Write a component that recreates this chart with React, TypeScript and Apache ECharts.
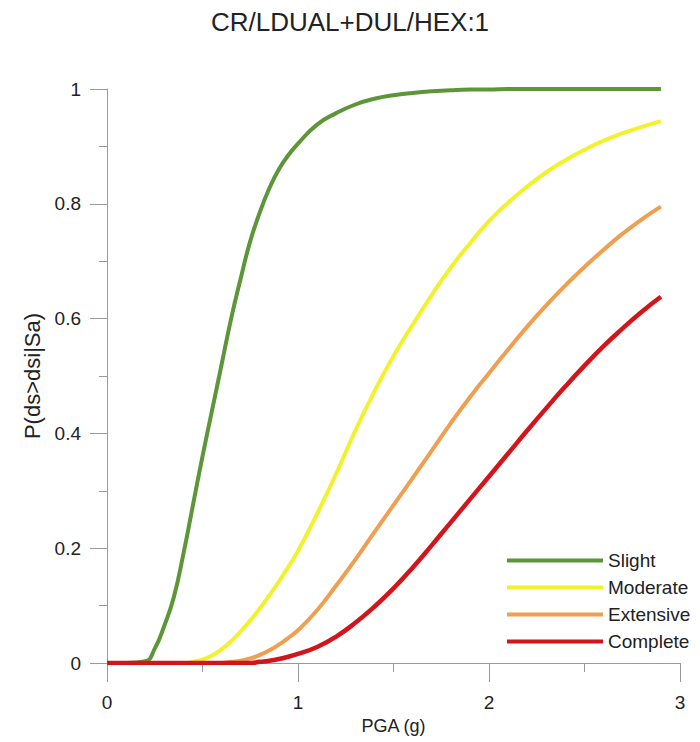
import React, { useEffect, useRef } from "react";
import * as echarts from "echarts";

const pga = [
  0, 0.1, 0.2, 0.25, 0.3, 0.35, 0.4, 0.45, 0.5, 0.55, 0.6, 0.65, 0.7, 0.75, 0.8, 0.85, 0.9, 0.95, 1.0,
  1.1, 1.2, 1.3, 1.4, 1.5, 1.6, 1.7, 1.8, 1.9, 2.0, 2.1, 2.2, 2.3, 2.4, 2.5, 2.6, 2.7, 2.8, 2.9,
];
const slight = [
  0, 0, 0.003, 0.025, 0.065, 0.115, 0.19, 0.275, 0.36, 0.44, 0.52, 0.6, 0.67, 0.735, 0.785, 0.827, 0.86, 0.885, 0.905,
  0.938, 0.958, 0.973, 0.983, 0.989, 0.993, 0.996, 0.998, 0.999, 0.999, 1, 1, 1, 1, 1, 1, 1, 1, 1,
];
const moderate = [
  0, 0, 0, 0, 0, 0, 0, 0.002, 0.006, 0.013, 0.024, 0.038, 0.055, 0.074, 0.095, 0.118, 0.142, 0.168, 0.195,
  0.26, 0.33, 0.405, 0.473, 0.535, 0.589, 0.641, 0.689, 0.731, 0.77, 0.802, 0.83, 0.855, 0.876, 0.894, 0.91, 0.923, 0.934, 0.944,
];
const extensive = [
  0, 0, 0, 0, 0, 0, 0, 0, 0, 0, 0, 0.002, 0.004, 0.008, 0.014, 0.022, 0.032, 0.044, 0.057,
  0.092, 0.135, 0.18, 0.228, 0.275, 0.322, 0.37, 0.418, 0.463, 0.505, 0.546, 0.586, 0.623, 0.658, 0.69, 0.72, 0.748, 0.773, 0.795,
];
const complete = [
  0, 0, 0, 0, 0, 0, 0, 0, 0, 0, 0, 0, 0, 0, 0.002, 0.004, 0.007, 0.011, 0.016,
  0.028, 0.046, 0.07, 0.098, 0.13, 0.166, 0.205, 0.245, 0.285, 0.325, 0.365, 0.405, 0.444, 0.482, 0.518, 0.552, 0.583, 0.612, 0.638,
];

const seriesNames = ["Slight", "Moderate", "Extensive", "Complete"];
const seriesValues = [slight, moderate, extensive, complete];
const seriesColors = ["#5d9638", "#f2f22c", "#ef9f4f", "#d3141b"];

const FONT = "'Liberation Sans', Arial, sans-serif";
const AXIS_GRAY = "#9a9a9a";

export default function App() {
  const ref = useRef<HTMLDivElement>(null);
  useEffect(() => {
    if (!ref.current) return;
    const chart = echarts.init(ref.current, undefined, { renderer: "svg" });
    chart.setOption({
      animation: false,
      backgroundColor: "#ffffff",
      title: {
        text: "CR/LDUAL+DUL/HEX:1",
        left: "center",
        top: 4,
        textStyle: { fontFamily: FONT, fontSize: 26, fontWeight: "normal", color: "#222" },
      },
      grid: { left: 107, right: 20, top: 89, bottom: 79, containLabel: false },
      legend: {
        orient: "vertical",
        left: 502,
        top: 546,
        itemWidth: 96,
        itemHeight: 14,
        itemGap: 8,
        data: seriesNames.map((n, i) => ({
          name: n,
          icon: "path://M0,0 L100,0 L100,4 L0,4 Z",
          itemStyle: { color: seriesColors[i] },
        })),
        textStyle: { fontFamily: FONT, fontSize: 19, color: "#222" },
      },
      xAxis: {
        type: "value",
        min: 0,
        max: 3,
        interval: 1,
        name: "PGA (g)",
        nameLocation: "middle",
        nameGap: 51,
        nameTextStyle: { fontFamily: FONT, fontSize: 18, color: "#222" },
        axisLine: { show: true, lineStyle: { color: AXIS_GRAY, width: 1 } },
        axisTick: { show: true, length: 19, lineStyle: { color: AXIS_GRAY } },
        minorTick: { show: true, splitNumber: 2, length: 9, lineStyle: { color: AXIS_GRAY } },
        axisLabel: { margin: 30, fontFamily: FONT, fontSize: 19, color: "#222" },
        splitLine: { show: false },
      },
      yAxis: {
        type: "value",
        min: 0,
        max: 1,
        interval: 0.2,
        name: "P(ds>dsi|Sa)",
        nameLocation: "middle",
        nameGap: 55,
        nameTextStyle: { fontFamily: FONT, fontSize: 22, color: "#222" },
        axisLine: { show: true, lineStyle: { color: AXIS_GRAY, width: 1 } },
        axisTick: { show: true, length: 17, lineStyle: { color: AXIS_GRAY } },
        minorTick: { show: true, splitNumber: 2, length: 8, lineStyle: { color: AXIS_GRAY } },
        axisLabel: { margin: 26, fontFamily: FONT, fontSize: 19, color: "#222" },
        splitLine: { show: false },
      },
      series: seriesNames.map((name, i) => ({
        name,
        type: "line",
        data: pga.map((x, k) => [x, seriesValues[i][k]]),
        showSymbol: false,
        symbol: "none",
        smooth: 0.5,
        lineStyle: { color: seriesColors[i], width: i === 3 ? 4.5 : 4 },
        itemStyle: { color: seriesColors[i] },
        z: 2 + i,
      })),
    });
    return () => chart.dispose();
  }, []);
  return (
    <div
      ref={ref}
      style={{ position: "fixed", left: 0, top: 0, width: 700, height: 742, background: "#fff" }}
    />
  );
}
